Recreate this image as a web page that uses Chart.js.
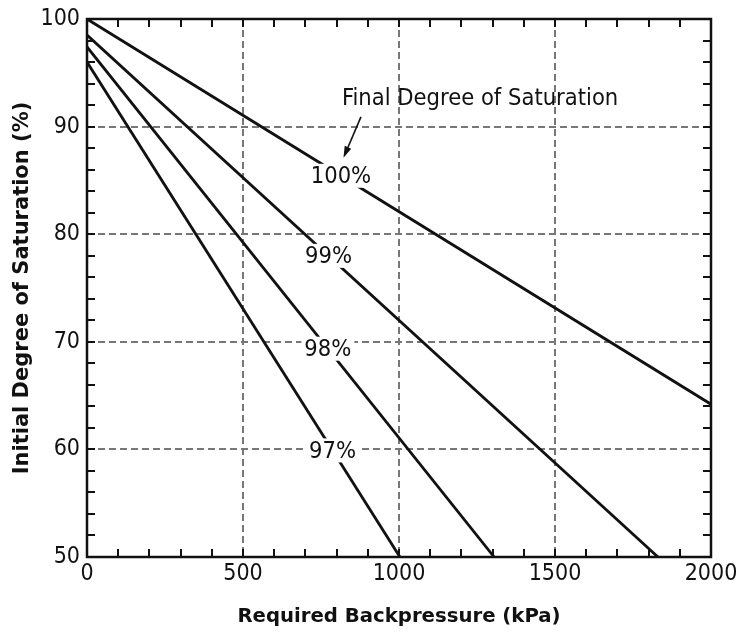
<!DOCTYPE html>
<html>
<head>
<meta charset="utf-8">
<script src="https://cdn.jsdelivr.net/npm/chart.js@4"></script>
<style>
  html, body { margin: 0; padding: 0; background: #fff; }
  #wrap { width: 738px; height: 633px; }
</style>
</head>
<body>
<div id="wrap"><canvas id="satChart" width="738" height="633"></canvas></div>
<script>
// values
const seriesNames = ['100%', '99%', '98%', '97%']
const s100x = [0, 2000], s100y = [100, 64.2]
const s99x = [0, 1830], s99y = [98.5, 50]
const s98x = [0, 1305], s98y = [97.4, 50]
const s97x = [0, 1003], s97y = [96, 50]
const labelX = [814, 774, 772, 787]   // where each % label sits along its line (kPa)

const xTickMajor = [0, 500, 1000, 1500, 2000]
const yTickMajor = [50, 60, 70, 80, 90, 100]

// "Final Degree of Saturation" note + arrow, in data units
const noteText = 'Final Degree of Saturation'
const noteAt = { x: 1260, y: 92.6 }
const arrowFrom = { x: 878, y: 90.9 }
const arrowTo = { x: 822, y: 87.1 }

const FONT = '"DejaVu Sans Condensed", "DejaVu Sans", sans-serif'

const toPoints = (xs, ys) => xs.map((x, i) => ({ x: x, y: ys[i] }))
const allSeries = [[s100x, s100y], [s99x, s99y], [s98x, s98y], [s97x, s97y]]

const lineLabels = {
    id: 'lineLabels',
    afterDatasetsDraw(chart) {
        const ctx = chart.ctx
        const xs = chart.scales.x, ys = chart.scales.y
        ctx.save()
        ctx.font = '23.5px ' + FONT
        ctx.textAlign = 'center'
        ctx.textBaseline = 'middle'
        allSeries.forEach(([sx, sy], i) => {
            const lx = labelX[i]
            // value on the line at lx
            const t = (lx - sx[0]) / (sx[1] - sx[0])
            const ly = sy[0] + t * (sy[1] - sy[0])
            const px = xs.getPixelForValue(lx)
            const py = ys.getPixelForValue(ly)
            const w = ctx.measureText(seriesNames[i]).width
            ctx.fillStyle = '#fff'
            ctx.fillRect(px - w / 2 - 3, py - 12, w + 6, 24)
            ctx.fillStyle = '#111'
            ctx.fillText(seriesNames[i], px, py + 1)
        })

        // note and arrow
        ctx.fillText(noteText, xs.getPixelForValue(noteAt.x), ys.getPixelForValue(noteAt.y))
        const ax = xs.getPixelForValue(arrowFrom.x), ay = ys.getPixelForValue(arrowFrom.y)
        const bx = xs.getPixelForValue(arrowTo.x), by = ys.getPixelForValue(arrowTo.y)
        const ang = Math.atan2(by - ay, bx - ax)
        ctx.strokeStyle = '#111'
        ctx.lineWidth = 1.6
        ctx.beginPath()
        ctx.moveTo(ax, ay)
        ctx.lineTo(bx - 8 * Math.cos(ang), by - 8 * Math.sin(ang))
        ctx.stroke()
        ctx.beginPath()
        ctx.moveTo(bx, by)
        ctx.lineTo(bx - 12 * Math.cos(ang - 0.3), by - 12 * Math.sin(ang - 0.3))
        ctx.lineTo(bx - 12 * Math.cos(ang + 0.3), by - 12 * Math.sin(ang + 0.3))
        ctx.closePath()
        ctx.fillStyle = '#111'
        ctx.fill()
        ctx.restore()
    }
}

// box around the plot with inward tick marks on all four sides
const frameTicks = {
    id: 'frameTicks',
    afterDraw(chart) {
        const ctx = chart.ctx
        const { left, right, top, bottom } = chart.chartArea
        const len = 8
        ctx.save()
        ctx.strokeStyle = '#111'
        ctx.lineWidth = 2
        ctx.beginPath()
        chart.scales.x.ticks.forEach(tk => {
            const px = Math.round(chart.scales.x.getPixelForValue(tk.value))
            ctx.moveTo(px, bottom); ctx.lineTo(px, bottom - len)
            ctx.moveTo(px, top); ctx.lineTo(px, top + len)
        })
        chart.scales.y.ticks.forEach(tk => {
            const py = Math.round(chart.scales.y.getPixelForValue(tk.value))
            ctx.moveTo(left, py); ctx.lineTo(left + len, py)
            ctx.moveTo(right, py); ctx.lineTo(right - len, py)
        })
        ctx.stroke()
        ctx.lineWidth = 2.5
        ctx.strokeRect(left, top, right - left, bottom - top)
        ctx.restore()
    }
}

const gridColor = (majors, lo, hi) => c => {
    const v = c.tick && c.tick.value
    return (majors.includes(v) && v !== lo && v !== hi) ? '#777' : 'rgba(0,0,0,0)'
}

Chart.register(lineLabels, frameTicks)

new Chart(document.getElementById('satChart').getContext('2d'), {
    type: 'line',
    data: {
        datasets: allSeries.map(([sx, sy], i) => ({
            label: seriesNames[i],
            data: toPoints(sx, sy),
            borderColor: '#111',
            borderWidth: 2.8,
            pointRadius: 0,
            fill: false,
            tension: 0,
        }))
    },
    options: {
        responsive: false,
        animation: false,
        devicePixelRatio: 1,
        layout: { padding: { left: 0, right: 27, top: 19, bottom: 0 } },
        plugins: { legend: { display: false }, tooltip: { enabled: false } },
        scales: {
            x: {
                type: 'linear',
                min: 0, max: 2000,
                afterFit: s => {
                    s.height = 76
                    // let the layout padding decide the right edge, not the "2000" label
                    s.paddingLeft = 0
                    s.paddingRight = 0
                },
                ticks: {
                    stepSize: 100,
                    autoSkip: false,
                    maxRotation: 0,
                    padding: 3,
                    color: '#111',
                    font: { family: FONT, size: 23 },
                    callback: v => xTickMajor.includes(v) ? String(v) : ''
                },
                grid: { drawTicks: false, color: gridColor(xTickMajor, 0, 2000), lineWidth: 2 },
                border: { display: false, dash: [7, 4] },
                title: {
                    display: true,
                    text: 'Required Backpressure (kPa)',
                    color: '#111',
                    font: { family: '"DejaVu Sans", sans-serif', size: 19.7, weight: 'bold' },
                    padding: { top: 0, bottom: 4 }
                }
            },
            y: {
                type: 'linear',
                min: 50, max: 100,
                afterFit: s => {
                    s.width = 87
                    s.paddingTop = 0
                    s.paddingBottom = 0
                },
                ticks: {
                    stepSize: 2,
                    autoSkip: false,
                    padding: 7,
                    color: '#111',
                    font: { family: FONT, size: 23 },
                    callback: v => yTickMajor.includes(v) ? String(v) : ''
                },
                grid: { drawTicks: false, color: gridColor(yTickMajor, 50, 100), lineWidth: 2 },
                border: { display: false, dash: [7, 4] },
                title: {
                    display: true,
                    text: 'Initial Degree of Saturation (%)',
                    color: '#111',
                    font: { family: '"DejaVu Sans", sans-serif', size: 21, weight: 'bold' },
                    padding: { top: 10, bottom: 0 }
                }
            }
        }
    }
})
</script>
</body>
</html>
